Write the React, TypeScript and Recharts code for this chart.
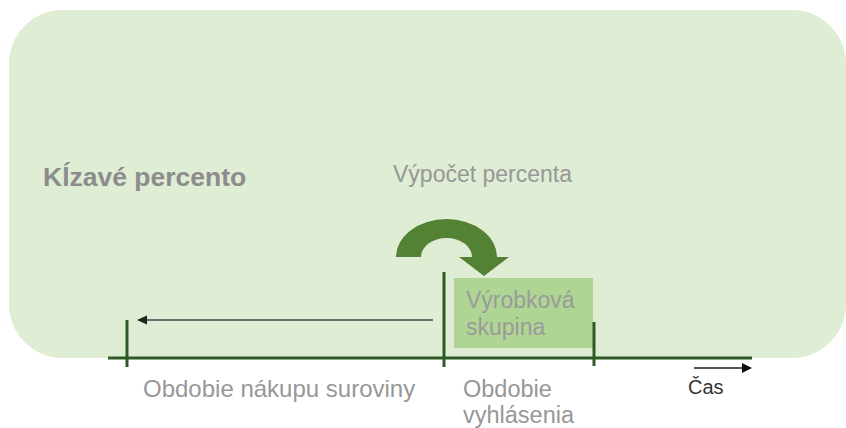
import React from 'react';
import {
  ComposedChart,
  XAxis,
  YAxis,
  ReferenceArea,
  ReferenceLine,
  ReferenceDot,
  Scatter,
} from 'recharts';

const CHART_W = 846;
const CHART_H = 428;

// ---- data (in diagram units: x = time position, y = vertical position) ----
const panelX = [9, 846];
const panelY = [10, 358];

const timelineX = [108, 752];
const timelineY = 358;

const markX = [127, 444, 594];
const markTop = [320, 272, 322];
const markBottom = [367, 367, 366];

const productBoxX = [454, 593];
const productBoxY = [278, 348];

const backArrowX = [433, 137];
const backArrowY = 320;

const timeArrowX = [694, 752];
const timeArrowY = 368;

// curved arrow geometry
const curveBoxX = [396, 509];
const curveBoxY = [219, 276];
const curveCenter = [446.5, 257];
const curveOuterR = [50.5, 38];
const curveInnerR = [25.5, 19];
const curveHeadX = [459, 509];
const curveTip = [484, 276];

// texts
const titleText = 'Kĺzavé percento';
const calcText = 'Výpočet percenta';
const productText = ['Výrobková', 'skupina'];
const purchaseText = 'Obdobie nákupu suroviny';
const declarationText = ['Obdobie', 'vyhlásenia'];
const timeText = 'Čas';

const textAnchors = {
  title: [43, 186],
  calc: [393, 182],
  product: [466, 308],
  purchase: [143, 397],
  declaration: [463, 397],
  time: [688, 394],
};

const FONT = '"Liberation Sans", Arial, Helvetica, sans-serif';
const GRAY = '#979797';
const DARK_GREEN = '#2e5a26';

const pointsForScatter = markX.map((x) => ({ x, y: timelineY }));

const makeText =
  (lines: string[], size: number, color: string, weight: string | number = 'normal', lineGap = 26) =>
  (props: any) => (
    <text
      x={props.cx}
      y={props.cy}
      fontFamily={FONT}
      fontSize={size}
      fontWeight={weight}
      fill={color}
    >
      {lines.map((l, i) => (
        <tspan key={i} x={props.cx} dy={i === 0 ? 0 : lineGap}>
          {l}
        </tspan>
      ))}
    </text>
  );

const panelShape = (props: any) => (
  <rect
    x={props.x}
    y={props.y}
    width={props.width}
    height={props.height}
    rx={54}
    ry={54}
    fill="#deedd3"
  />
);

const boxShape = (props: any) => (
  <rect x={props.x} y={props.y} width={props.width} height={props.height} fill="#afd594" />
);

const curvedArrowShape = (props: any) => {
  const { x, y, width, height } = props;
  const mx = (v: number) => x + ((v - curveBoxX[0]) / (curveBoxX[1] - curveBoxX[0])) * width;
  const my = (v: number) => y + ((v - curveBoxY[0]) / (curveBoxY[1] - curveBoxY[0])) * height;
  const sx = width / (curveBoxX[1] - curveBoxX[0]);
  const sy = height / (curveBoxY[1] - curveBoxY[0]);
  const [cx, cy] = curveCenter;
  const d = [
    `M ${mx(cx - curveOuterR[0])} ${my(cy)}`,
    `A ${curveOuterR[0] * sx} ${curveOuterR[1] * sy} 0 0 1 ${mx(cx + curveOuterR[0])} ${my(cy)}`,
    `L ${mx(curveHeadX[1])} ${my(cy)}`,
    `L ${mx(curveTip[0])} ${my(curveTip[1])}`,
    `L ${mx(curveHeadX[0])} ${my(cy)}`,
    `L ${mx(cx + curveInnerR[0])} ${my(cy)}`,
    `A ${curveInnerR[0] * sx} ${curveInnerR[1] * sy} 0 0 0 ${mx(cx - curveInnerR[0])} ${my(cy)}`,
    'Z',
  ].join(' ');
  return <path d={d} fill="#548235" />;
};

const arrowLineShape =
  (lineColor: string, headColor: string, headLen: number, headHalf: number, strokeW: number) =>
  (props: any) => {
    const { x1, y1, x2, y2 } = props;
    const dir = x2 > x1 ? 1 : -1;
    const baseX = x2 - dir * headLen;
    return (
      <g>
        <line x1={x1} y1={y1} x2={baseX + dir * 1} y2={y2} stroke={lineColor} strokeWidth={strokeW} />
        <polygon
          points={`${x2},${y2} ${baseX},${y2 - headHalf} ${baseX},${y2 + headHalf}`}
          fill={headColor}
        />
      </g>
    );
  };

export default function App() {
  return (
    <div style={{ position: 'fixed', left: 0, top: 0, width: CHART_W, height: CHART_H, background: '#fff' }}>
      <ComposedChart
        width={CHART_W}
        height={CHART_H}
        data={pointsForScatter}
        margin={{ top: 0, right: 0, bottom: 0, left: 0 }}
      >
        <XAxis type="number" dataKey="x" domain={[0, CHART_W]} allowDataOverflow hide />
        <YAxis type="number" dataKey="y" domain={[0, CHART_H]} allowDataOverflow reversed hide />

        <ReferenceArea
          x1={panelX[0]}
          x2={panelX[1]}
          y1={panelY[0]}
          y2={panelY[1]}
          shape={panelShape}
          ifOverflow="visible"
        />

        <ReferenceArea
          x1={productBoxX[0]}
          x2={productBoxX[1]}
          y1={productBoxY[0]}
          y2={productBoxY[1]}
          shape={boxShape}
        />

        <ReferenceArea
          x1={curveBoxX[0]}
          x2={curveBoxX[1]}
          y1={curveBoxY[0]}
          y2={curveBoxY[1]}
          shape={curvedArrowShape}
        />

        <ReferenceLine
          segment={[
            { x: backArrowX[0], y: backArrowY },
            { x: backArrowX[1], y: backArrowY },
          ]}
          shape={arrowLineShape('#6a6a6a', '#222222', 10, 4.5, 2)}
        />

        <ReferenceLine
          segment={[
            { x: timeArrowX[0], y: timeArrowY },
            { x: timeArrowX[1], y: timeArrowY },
          ]}
          shape={arrowLineShape('#555555', '#111111', 10, 5, 2)}
        />

        <ReferenceLine
          segment={[
            { x: timelineX[0], y: timelineY },
            { x: timelineX[1], y: timelineY },
          ]}
          stroke={DARK_GREEN}
          strokeWidth={3}
        />

        {markX.map((x, i) => (
          <ReferenceLine
            key={`m${i}`}
            segment={[
              { x, y: markTop[i] },
              { x, y: markBottom[i] },
            ]}
            stroke={DARK_GREEN}
            strokeWidth={3}
          />
        ))}

        <Scatter dataKey="y" isAnimationActive={false} shape={() => <g />} />

        <ReferenceDot
          x={textAnchors.title[0]}
          y={textAnchors.title[1]}
          shape={makeText([titleText], 26.5, '#8c8c8c', 'bold')}
        />
        <ReferenceDot
          x={textAnchors.calc[0]}
          y={textAnchors.calc[1]}
          shape={makeText([calcText], 23, GRAY)}
        />
        <ReferenceDot
          x={textAnchors.product[0]}
          y={textAnchors.product[1]}
          shape={makeText(productText, 23, '#9a9a9a', 'normal', 27)}
        />
        <ReferenceDot
          x={textAnchors.purchase[0]}
          y={textAnchors.purchase[1]}
          shape={makeText([purchaseText], 24, GRAY)}
        />
        <ReferenceDot
          x={textAnchors.declaration[0]}
          y={textAnchors.declaration[1]}
          shape={makeText(declarationText, 23.5, GRAY, 'normal', 26)}
        />
        <ReferenceDot
          x={textAnchors.time[0]}
          y={textAnchors.time[1]}
          shape={makeText([timeText], 20, '#333333')}
        />
      </ComposedChart>
    </div>
  );
}
